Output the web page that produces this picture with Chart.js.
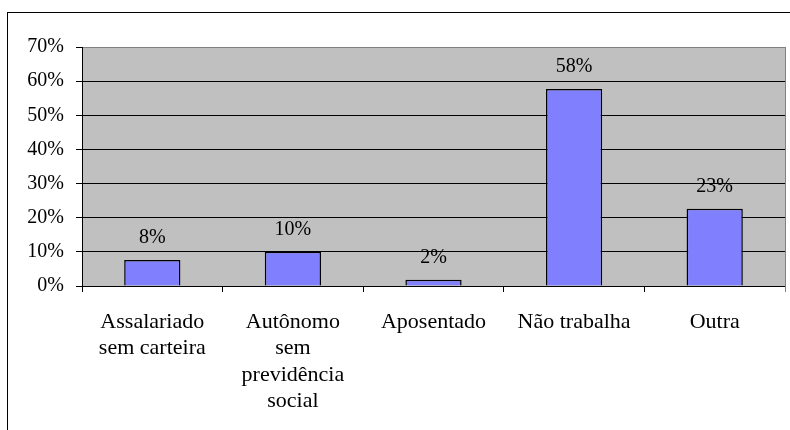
<!DOCTYPE html>
<html>
<head>
<meta charset="utf-8">
<script src="https://cdn.jsdelivr.net/npm/chart.js@4/dist/chart.umd.min.js"></script>
<style>
    html, body { margin: 0; padding: 0; background: #fff; overflow: hidden; }
    #frame { position: absolute; left: 7px; top: 12px; width: 900px; height: 600px; border: 1px solid #000; }
    #grafico { position: absolute; left: 0; top: 0; }
</style>
</head>
<body>
<div id="frame"></div>
<canvas id="grafico" width="790" height="430"></canvas>
<script>
// Dados do gráfico (valores em %)
const categorias = [
    ['Assalariado', 'sem carteira'],
    ['Autônomo', 'sem', 'previdência', 'social'],
    'Aposentado',
    'Não trabalha',
    'Outra',
];
const valores = [7.6, 10, 1.8, 57.7, 22.6];
const ticksY = [0, 10, 20, 30, 40, 50, 60, 70];

const fonte = 'Liberation Serif';

// fundo cinza da área de plotagem + borda direita
const areaPlotagem = {
    id: 'areaPlotagem',
    beforeDraw(chart) {
        const { ctx, chartArea } = chart;
        ctx.save();
        ctx.fillStyle = '#C0C0C0';
        ctx.fillRect(chartArea.left, chartArea.top, chartArea.right - chartArea.left, chartArea.bottom - chartArea.top);
        ctx.restore();
    },
    afterDraw(chart) {
        const { ctx, chartArea } = chart;
        ctx.save();
        ctx.strokeStyle = '#808080';
        ctx.lineWidth = 1;
        ctx.beginPath();
        ctx.moveTo(chartArea.right + 0.5, chartArea.top);
        ctx.lineTo(chartArea.right + 0.5, chartArea.bottom + 6);
        ctx.stroke();
        ctx.restore();
    },
};

// rótulos de dados acima das barras
const rotulos = {
    id: 'rotulos',
    afterDatasetsDraw(chart) {
        const { ctx } = chart;
        const meta = chart.getDatasetMeta(0);
        ctx.save();
        ctx.font = `20px ${fonte}`;
        ctx.fillStyle = '#000';
        ctx.textAlign = 'center';
        ctx.textBaseline = 'middle';
        meta.data.forEach((bar, i) => {
            ctx.fillText(`${Math.round(valores[i])}%`, bar.x, bar.y - 22);
        });
        ctx.restore();
    },
};

new Chart(document.getElementById('grafico').getContext('2d'), {
    type: 'bar',
    data: {
        labels: categorias,
        datasets: [
            {
                data: valores,
                backgroundColor: '#8080FF',
                borderColor: '#000',
                borderWidth: 1.5,
                barPercentage: 0.4,
                categoryPercentage: 1,
            },
        ],
    },
    options: {
        responsive: false,
        devicePixelRatio: 1,
        animation: false,
        layout: {
            padding: { top: 47, right: 5, left: 0, bottom: 0 },
        },
        plugins: {
            legend: { display: false },
            tooltip: { enabled: false },
        },
        scales: {
            x: {
                grid: {
                    offset: true,
                    drawOnChartArea: false,
                    drawTicks: true,
                    tickLength: 6,
                    color: '#000',
                },
                border: { display: true, color: '#000', width: 1 },
                ticks: {
                    color: '#000',
                    padding: 17,
                    maxRotation: 0,
                    autoSkip: false,
                    font: { family: fonte, size: 22, lineHeight: 1.2 },
                },
                afterFit(scale) {
                    scale.height = 144;
                },
            },
            y: {
                min: 0,
                max: 70,
                afterBuildTicks(scale) {
                    scale.ticks = ticksY.map((v) => ({ value: v }));
                },
                grid: {
                    color(ctx) {
                        return ctx.tick && ctx.tick.value === 70 ? '#808080' : '#000';
                    },
                    tickColor: '#000',
                    tickLength: 6,
                },
                border: { display: true, color: '#000', width: 1 },
                ticks: {
                    color: '#000',
                    padding: 12,
                    font: { family: fonte, size: 20 },
                    callback(value) {
                        return `${value}%`;
                    },
                },
                afterFit(scale) {
                    scale.width = 82;
                },
            },
        },
    },
    plugins: [areaPlotagem, rotulos],
});
</script>
</body>
</html>
